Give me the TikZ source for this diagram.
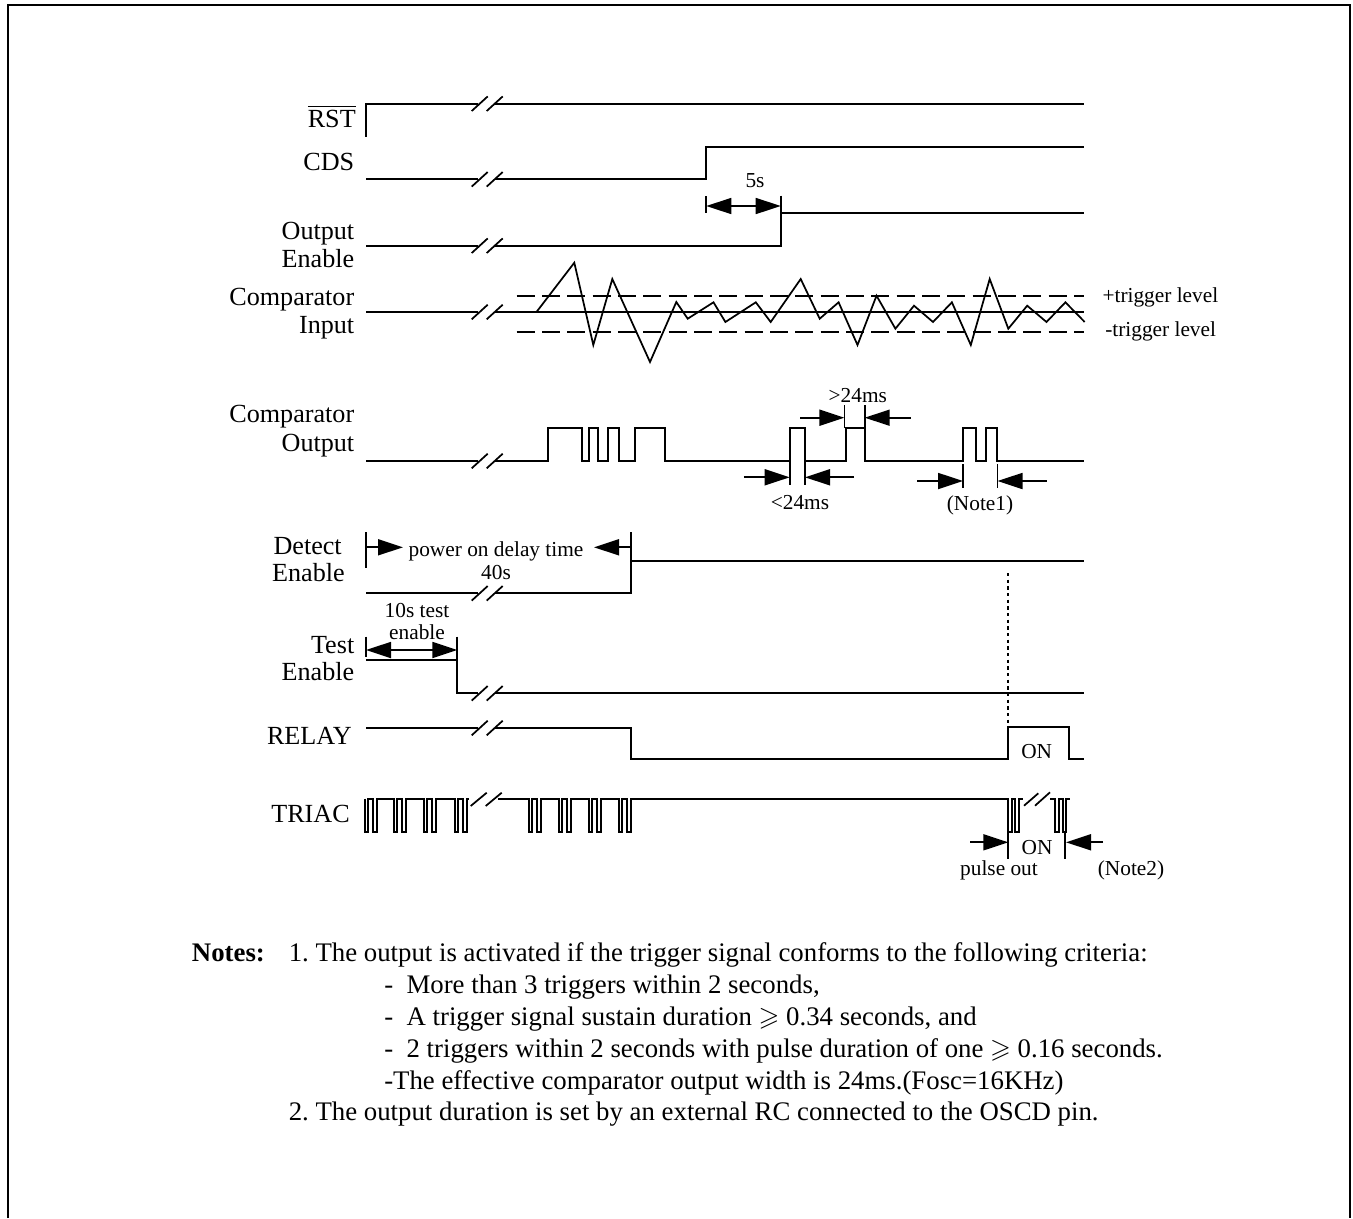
\documentclass[tikz,border=0pt]{standalone}
\usepackage{amssymb}
\usepackage{fontspec}
\setmainfont{Liberation Serif}
\usetikzlibrary{arrows.meta}
\newcommand{\lbfont}{\fontsize{19.6}{23}\selectfont}
\newcommand{\smfont}{\fontsize{16}{19}\selectfont}
\newcommand{\ntfont}{\fontsize{20.1}{24}\selectfont\frenchspacing}
\newcommand{\brkmark}[1]{%
  \draw[thinl] (471.7,#1+7.3) -- (487.7,#1-7.3);
  \draw[thinl] (486.7,#1+7.3) -- (502.7,#1-7.3);}
\newcommand{\triacgroup}[1]{-- (#1,798.5) -- (#1,831.5) -- (#1+3,831.5) -- (#1+3,798.5) -- (#1+8,798.5) -- (#1+8,831.5) -- (#1+12,831.5) -- (#1+12,798.5)}
\tikzset{
  sig/.style={line width=1.5pt,line join=miter,line cap=butt},
  thinl/.style={line width=1.3pt},
  frameline/.style={line width=1.5pt},
  dim/.style={line width=1.3pt},
  dimhead/.style={dim,-{Triangle[length=18.75pt,width=12pt]}},
  dimheads/.style={dim,{Triangle[length=18.75pt,width=12pt]}-{Triangle[length=18.75pt,width=12pt]}},
  lev/.style={line width=1.3pt,dash pattern=on 13.5pt off 5.5pt},
  probe/.style={line width=1.3pt,dash pattern=on 2.5pt off 2.5pt},
  lb/.style={anchor=base east,inner sep=0pt,font=\lbfont},
  sm/.style={anchor=base,inner sep=0pt,font=\smfont},
  nt/.style={anchor=base west,inner sep=0pt,font=\ntfont},
  trc/.style={line width=1.5pt,line join=miter},
}
\begin{document}
\begin{tikzpicture}[x=0.75pt,y=-0.75pt]
\useasboundingbox (0,0) rectangle (1353,1218);
% frame
\draw[frameline] (8,1218) -- (8,5) -- (1350,5) -- (1350,1218);

% labels
\node[lb] (lrst) at (356,127.3) {$\overline{\hbox{\lbfont RST}}$};
\node[lb] (lcds) at (354.5,170) {CDS};
\node[lb] (lout1) at (354.5,239.3) {Output};
\node[lb] (lout2) at (354.5,267.3) {Enable};
\node[lb] (lci1) at (354.5,305.7) {Comparator};
\node[lb] (lci2) at (354.5,333.3) {Input};
\node[lb] (lco1) at (354.5,422) {Comparator};
\node[lb] (lco2) at (354.5,451) {Output};
\node[lb] (lde1) at (342,554) {Detect};
\node[lb] (lde2) at (345,581.7) {Enable};
\node[lb] (lte1) at (354.5,653.3) {Test};
\node[lb] (lte2) at (354.5,680.7) {Enable};
\node[lb] (lrel) at (352,744) {RELAY};
\node[lb] (ltri) at (350,822) {TRIAC};

% RST
\draw[sig] (366,136.7) -- (366,103.7) -- (478,103.7);
\draw[sig] (495,103.7) -- (1084,103.7);
\brkmark{103.7}
% CDS
\draw[sig] (366,179.3) -- (478,179.3);
\draw[sig] (495,179.3) -- (706.3,179.3) -- (706.3,146.7) -- (1084,146.7);
\brkmark{179.3}
% 5s
\draw[dim] (706.3,196) -- (706.3,213.3);
\draw[dimheads] (706.3,206) -- (780.7,206);
\draw[dim] (780.7,195.7) -- (780.7,213);
\node[sm] (t5s) at (755,187) {5s};
% Output enable
\draw[sig] (366,245.7) -- (478,245.7);
\draw[sig] (495,245.7) -- (780.7,245.7) -- (780.7,213) -- (1084,213);
\brkmark{245.7}
% Comparator input
\draw[sig] (366,312) -- (478,312);
\draw[sig] (495,312) -- (1084,312);
\brkmark{312}
\draw[lev] (516.7,295.7) -- (1084,295.7);
\draw[lev] (516.7,332) -- (1084,332);
\draw[line width=1.3pt,line join=miter]
 (536.7,311.7) -- (574.3,262.7) -- (593.3,345) -- (612.3,279) -- (650,362) -- (676.3,302)
 -- (687.7,318.7) -- (713.5,302.3) -- (725.4,322) -- (755.8,302.3) -- (770.7,322) -- (800.7,279)
 -- (819.7,318.7) -- (838.6,302.3) -- (857.5,345) -- (876.5,295.7) -- (895.4,328.7) -- (914,305.7)
 -- (933,322) -- (951.9,302.3) -- (970.8,345) -- (989.7,279) -- (1008.3,328.7) -- (1027.2,305.7)
 -- (1046.5,322) -- (1065.4,302.3) -- (1084.7,322);
\node[anchor=base west,inner sep=0pt,font=\fontsize{16}{19}\selectfont] (tp) at (1102.3,302) {+trigger level};
\node[anchor=base west,inner sep=0pt,font=\fontsize{16}{19}\selectfont] (tm) at (1105,336) {-trigger level};

% Comparator output
\draw[sig] (366,461) -- (478,461);
\draw[sig] (495,461) -- (547.8,461) -- (547.8,428.3) -- (581.5,428.3) -- (581.5,461) -- (588.8,461)
 -- (588.8,428.3) -- (597.6,428.3) -- (597.6,461) -- (608.3,461) -- (608.3,428.3) -- (618.6,428.3)
 -- (618.6,461) -- (634.7,461) -- (634.7,428.3) -- (664.6,428.3) -- (664.6,461) -- (789.7,461)
 -- (789.7,428.3) -- (805,428.3) -- (805,461) -- (846,461) -- (846,428.3) -- (864.7,428.3)
 -- (864.7,461) -- (963,461) -- (963,428.3) -- (975.7,428.3) -- (975.7,461) -- (986.4,461)
 -- (986.4,428.3) -- (996.7,428.3) -- (996.7,461) -- (1084,461);
\brkmark{461}
% <24ms
\draw[dim] (789.7,461) -- (789.7,485);
\draw[dim] (805,461) -- (805,485);
\draw[dimhead] (743.8,477.3) -- (789.7,477.3);
\draw[dimhead] (854,477.3) -- (805,477.3);
\node[sm] (tlt) at (800,509) {<24ms};
% >24ms
\draw[dim] (844.4,405) -- (844.4,428.3);
\draw[dim] (864.7,405) -- (864.7,428.3);
\draw[dimhead] (800.4,417.7) -- (844.4,417.7);
\draw[dimhead] (910.6,417.7) -- (864.7,417.7);
\node[sm] (tgt) at (857.8,402) {>24ms};
% Note1
\draw[dim] (963,464) -- (963,488);
\draw[dim] (997.5,464) -- (997.5,488);
\draw[dimhead] (917,481) -- (963,481);
\draw[dimhead] (1046.5,481) -- (997.5,481);
\node[sm] (tn1) at (980,510) {(Note1)};

% Detect enable
\draw[sig] (366,593.3) -- (478,593.3);
\draw[sig] (495,593.3) -- (631,593.3) -- (631,560.7) -- (1084,560.7);
\brkmark{593.3}
\draw[dim] (631,532) -- (631,560.7);
\draw[dim] (366,532) -- (366,567.7);
\draw[dimhead] (366,547.3) -- (403,547.3);
\draw[dimhead] (631,547.3) -- (594,547.3);
\node[sm] (tpow) at (496,556.5) {power on delay time};
\node[sm] (t40) at (496,579.5) {40s};
% Test enable
\draw[sig] (366,660) -- (457.3,660) -- (457.3,693.3) -- (478,693.3);
\draw[sig] (495,693.3) -- (1084,693.3);
\brkmark{693.3}
\draw[dim] (366,636.7) -- (366,656.7);
\draw[dim] (457.3,636.7) -- (457.3,660);
\draw[dimheads] (366,650) -- (457.3,650);
\node[sm] (tt1) at (417,617.5) {10s test};
\node[sm] (tt2) at (417,639) {enable};

% RELAY
\draw[sig] (366,728) -- (478,728);
\draw[sig] (495,728) -- (631,728) -- (631,759.3) -- (1008.3,759.3) -- (1008.3,726.7) -- (1069,726.7) -- (1069,759.3) -- (1084,759.3);
\brkmark{728}
\draw[probe] (1008.3,573) -- (1008.3,726.7);
\node[sm] (ton) at (1036.7,758) {ON};

% TRIAC
\draw[trc] (364.5,798.5) \triacgroup{364.5} \triacgroup{394} \triacgroup{424} \triacgroup{455} -- (469,798.5);
\draw[thinl] (470.7,806) -- (486.7,792.7);
\draw[thinl] (485.7,806) -- (501.7,792.7);
\draw[trc] (498,798.5) \triacgroup{528.5} \triacgroup{558.5} \triacgroup{589} \triacgroup{619} -- (1008.3,798.5)
  -- (1008.3,831.5) -- (1011.7,831.5) -- (1011.7,798.5) -- (1015,798.5) -- (1015,831.5) -- (1019.3,831.5) -- (1019.3,798.5) -- (1023,798.5);
\draw[thinl] (1024,805.7) -- (1038.3,793.3);
\draw[thinl] (1035,805.7) -- (1050,792.3);
\draw[trc] (1050,798.5) -- (1055,798.5) -- (1055,831.5) -- (1059.3,831.5) -- (1059.3,798.5) -- (1063.3,798.5) -- (1063.3,831.5) -- (1066,831.5) -- (1066,798.5) -- (1070,798.5);
\draw[dim] (1008.3,831) -- (1008.3,859);
\draw[dim] (1065,831) -- (1065,859);
\draw[dimhead] (970,842.3) -- (1008.3,842.3);
\draw[dimhead] (1103,842.3) -- (1066,842.3);
\node[sm] (ton2) at (1037,854.5) {ON};
\node[sm] (tpo) at (999,875.5) {pulse out};
\node[sm] (tn2) at (1131,875.5) {(Note2)};

% Notes
\node[nt] (n0) at (191.7,961.7) {\bfseries Notes:};
\node[nt] (n1) at (288.5,961.7) {1. The output is activated if the trigger signal conforms to the following criteria:};
\node[nt] (n2) at (384,993.3) {-\hspace{0.5em}More than 3 triggers within 2 seconds,};
\node[nt] (n3) at (384,1025.7) {-\hspace{0.5em}A trigger signal sustain duration $\geqslant$ 0.34 seconds, and};
\node[nt] (n4) at (384,1057.3) {-\hspace{0.5em}2 triggers within 2 seconds with pulse duration of one $\geqslant$ 0.16 seconds.};
\node[nt] (n5) at (384,1089.3) {-The effective comparator output width is 24ms.(Fosc=16KHz)};
\node[nt] (n6) at (288.5,1120.5) {2. The output duration is set by an external RC connected to the OSCD pin.};
\end{tikzpicture}
\end{document}
